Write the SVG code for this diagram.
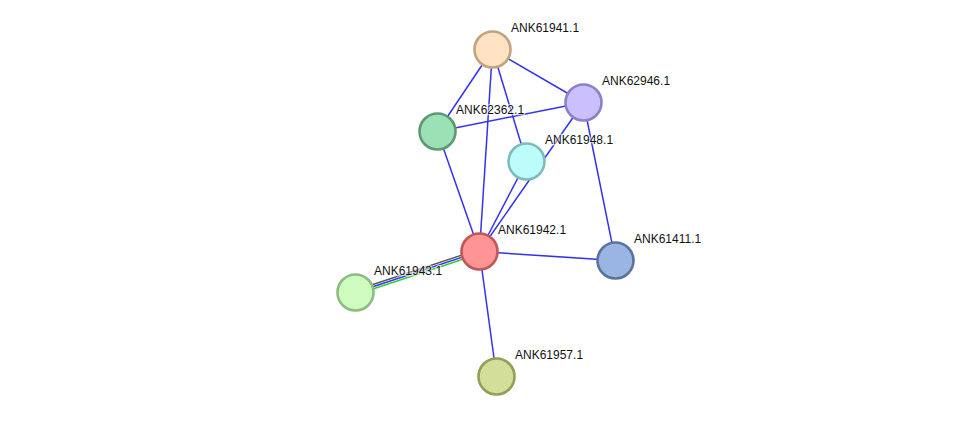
<svg xmlns="http://www.w3.org/2000/svg" width="976" height="422" viewBox="0 0 976 422">
<style>
.e{stroke:#3333ee;stroke-width:1.5;fill:none}
.n{stroke-width:2.6}
.t{font-family:"Liberation Sans",Arial,sans-serif;font-size:12px;fill:#111;stroke:#fff;stroke-width:2.5;stroke-opacity:0.6;paint-order:stroke;stroke-linejoin:round}
</style>
<rect width="976" height="422" fill="#fff"/>
<g id="edges">
<line class="e" x1="492.5" y1="49.5" x2="437.5" y2="131.5"/>
<line class="e" x1="492.5" y1="49.5" x2="479.5" y2="251.5"/>
<line class="e" x1="492.5" y1="49.5" x2="526.5" y2="161.5"/>
<line class="e" x1="492.5" y1="49.5" x2="583.5" y2="102.5"/>
<line class="e" x1="437.5" y1="131.5" x2="583.5" y2="102.5"/>
<line class="e" x1="437.5" y1="131.5" x2="479.5" y2="251.5"/>
<line class="e" x1="583.5" y1="102.5" x2="479.5" y2="251.5"/>
<line class="e" x1="526.5" y1="161.5" x2="479.5" y2="251.5"/>
<line class="e" x1="583.5" y1="102.5" x2="615.5" y2="260.5"/>
<line class="e" x1="479.5" y1="251.5" x2="615.5" y2="260.5"/>
<line class="e" x1="479.5" y1="251.5" x2="496.5" y2="376.5"/>
<line x1="478.8" y1="249.5" x2="354.8" y2="290.5" stroke="#555" stroke-width="1.4"/>
<line x1="479.5" y1="251.5" x2="355.5" y2="292.5" stroke="#3333ee" stroke-width="1.4"/>
<line x1="480.2" y1="253.5" x2="356.2" y2="294.5" stroke="#33cc33" stroke-width="1.4"/>
</g>
<g id="ANK61941.1"><circle class="n" cx="492.5" cy="49.5" r="18" fill="#ffe2c2" stroke="#c0a47f"/><text class="t" x="511" y="32">ANK61941.1</text></g>
<g id="ANK62946.1"><circle class="n" cx="583.5" cy="102.5" r="18" fill="#cbc0fd" stroke="#8c80c6"/><text class="t" x="602" y="85">ANK62946.1</text></g>
<g id="ANK62362.1"><circle class="n" cx="437.5" cy="131.5" r="18" fill="#9ce0b6" stroke="#5c9b72"/><text class="t" x="456" y="114">ANK62362.1</text></g>
<g id="ANK61948.1"><circle class="n" cx="526.5" cy="161.5" r="18" fill="#befcfc" stroke="#7ebcbc"/><text class="t" x="545" y="144">ANK61948.1</text></g>
<g id="ANK61942.1"><circle class="n" cx="479.5" cy="251.5" r="18" fill="#fe9494" stroke="#c05858"/><text class="t" x="498" y="234">ANK61942.1</text></g>
<g id="ANK61411.1"><circle class="n" cx="615.5" cy="260.5" r="18" fill="#9bb5e3" stroke="#5b71a0"/><text class="t" x="634" y="243">ANK61411.1</text></g>
<g id="ANK61943.1"><circle class="n" cx="355.5" cy="292.5" r="18" fill="#cefcbf" stroke="#8ebc80"/><text class="t" x="374" y="275">ANK61943.1</text></g>
<g id="ANK61957.1"><circle class="n" cx="496.5" cy="376.5" r="18" fill="#d3de98" stroke="#939e57"/><text class="t" x="515" y="359">ANK61957.1</text></g>
</svg>
